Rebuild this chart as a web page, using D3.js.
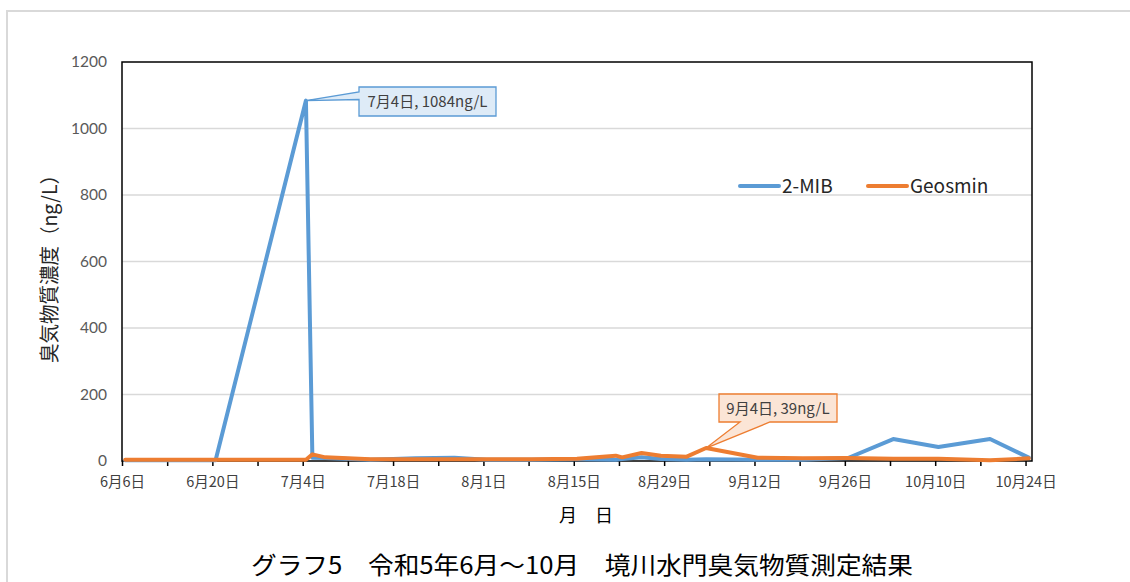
<!DOCTYPE html>
<html>
<head>
<meta charset="utf-8">
<script src="https://cdn.jsdelivr.net/npm/d3@7"></script>
<style>
  body { margin: 0; background: #fff; }
  text { font-family: "Noto Sans CJK JP", sans-serif; }
</style>
</head>
<body>
<div class="canvas"></div>
<script>
// sampling dates (2023) and measured values, ng/L
const sampleDates = ['6/6', '6/20', '7/4', '7/5', '7/7', '7/14', '7/21', '7/27', '8/1', '8/8', '8/15',
                     '8/21', '8/22', '8/25', '8/28', '9/1', '9/4', '9/12', '9/19', '9/26', '10/3',
                     '10/10', '10/18', '10/24']
const mibValues = [2, 2, 1084, 10, 9, 4, 8, 10, 4, 4, 5,
                   4, 6, 11, 6, 4, 5, 4, 4, 9, 66,
                   42, 66, 10]
const geosminValues = [4, 4, 4, 20, 11, 5, 5, 5, 5, 5, 7,
                       16, 11, 24, 16, 13, 39, 10, 8, 9, 7,
                       7, 2, 8]
const seriesNames = ['2-MIB', 'Geosmin']
const yTicks = [0, 200, 400, 600, 800, 1000, 1200]
const xTickDates = ['6/6', '6/20', '7/4', '7/18', '8/1', '8/15', '8/29', '9/12', '9/26', '10/10', '10/24']
const callouts = [
  {series: 0, date: '7/4', label: '7月4日, 1084ng/L'},
  {series: 1, date: '9/4', label: '9月4日, 39ng/L'}
]

const W = 1130, H = 582
const plot = {left: 122, right: 1032, top: 62, bottom: 461}
const colors = ['#5B9BD5', '#ED7D31']
const fills = ['#DEEBF7', '#FBE5D6']

const parseDay = s => d3.timeParse('%Y/%m/%d')('2023/' + s)
// points sit in the middle of their day slot
const atNoon = s => d3.timeHour.offset(parseDay(s), 12)

const svg = d3.select('.canvas').append('svg')
    .attr('width', W)
    .attr('height', H)

// outer chart frame
svg.append('path')
    .attr('d', `M7,${H} L7,11 L${W},11`)
    .attr('fill', 'none')
    .attr('stroke', '#d9d9d9')
    .attr('stroke-width', 2)

const x = d3.scaleTime()
    .domain([parseDay('6/6'), parseDay('10/25')])
    .range([plot.left, plot.right])
const y = d3.scaleLinear()
    .domain([0, 1200])
    .range([plot.bottom, plot.top])

// grid
svg.append('g').selectAll('line')
    .data(yTicks.slice(1, -1))
    .enter().append('line')
        .attr('x1', plot.left).attr('x2', plot.right)
        .attr('y1', d => y(d)).attr('y2', d => y(d))
        .attr('stroke', '#d9d9d9')
        .attr('stroke-width', 1.3)

// y axis labels
const yAxis = svg.append('g')
    .attr('transform', `translate(${plot.left},0)`)
    .call(d3.axisLeft(y).tickValues(yTicks).tickSize(0).tickPadding(15).tickFormat(d3.format('d')))
yAxis.select('.domain').remove()
yAxis.selectAll('text')
    .style('font-family', 'Lato, "Noto Sans CJK JP", sans-serif')
    .style('font-size', '15.5px')
    .attr('fill', '#595959')

// x axis: weekly ticks, labels every two weeks
const weekly = d3.timeDay.range(parseDay('6/6'), parseDay('10/25'), 7)
const labelled = new Set(xTickDates.map(s => +parseDay(s)))
const xAxis = svg.append('g')
    .attr('transform', `translate(0,${plot.bottom})`)
    .call(d3.axisBottom(x)
        .tickValues(weekly)
        .tickSize(5)
        .tickPadding(11)
        .tickFormat(d => labelled.has(+d) ? d3.timeFormat('%-m月%-d日')(d) : ''))
xAxis.select('.domain').remove()
xAxis.selectAll('line').attr('stroke', '#000').attr('stroke-width', 1.5)
xAxis.selectAll('text')
    .style('font-size', '14.5px')
    .attr('fill', '#404040')

// plot area border
svg.append('rect')
    .attr('x', plot.left).attr('y', plot.top)
    .attr('width', plot.right - plot.left)
    .attr('height', plot.bottom - plot.top)
    .attr('fill', 'none')
    .attr('stroke', '#000')
    .attr('stroke-width', 1.5)

// lines
const series = [mibValues, geosminValues].map(vals =>
    sampleDates.map((s, i) => ({date: atNoon(s), value: vals[i]})))
const line = d3.line()
    .x(d => x(d.date))
    .y(d => y(d.value))

svg.append('g').selectAll('path')
    .data(series)
    .enter().append('path')
        .attr('d', line)
        .attr('fill', 'none')
        .attr('stroke', (d, i) => colors[i])
        .attr('stroke-width', 4)
        .attr('stroke-linejoin', 'round')
        .attr('stroke-linecap', 'round')

// legend
const legend = svg.append('g')
seriesNames.forEach((name, i) => {
    const lx = 740 + i * 128
    legend.append('line')
        .attr('x1', lx).attr('x2', lx + 39)
        .attr('y1', 186).attr('y2', 186)
        .attr('stroke', colors[i])
        .attr('stroke-width', 4)
        .attr('stroke-linecap', 'round')
    legend.append('text')
        .attr('x', lx + 42).attr('y', 192.5)
        .style('font-size', '19px')
        .attr('fill', '#262626')
        .text(name)
})

// data callouts
const drawCallout = (c, box, notch) => {
    const px = x(atNoon(c.date))
    const py = y([mibValues, geosminValues][c.series][sampleDates.indexOf(c.date)])
    const bx = box.x, by = box.y, bw = box.w, bh = box.h
    let d
    if (notch === 'left') {
        d = `M${bx},${by} L${bx + bw},${by} L${bx + bw},${by + bh} L${bx},${by + bh}
             L${bx},${by + 12.5} L${px},${py} L${bx},${by + 5} Z`
    } else {
        d = `M${bx},${by} L${bx + bw},${by} L${bx + bw},${by + bh} L${bx + 51},${by + bh}
             L${px},${py} L${bx + 21},${by + bh} L${bx},${by + bh} Z`
    }
    svg.append('path')
        .attr('d', d)
        .attr('fill', fills[c.series])
        .attr('stroke', colors[c.series])
        .attr('stroke-width', 1.3)
    svg.append('text')
        .attr('x', bx + bw / 2).attr('y', by + bh / 2 + 5.5)
        .attr('text-anchor', 'middle')
        .style('font-size', '15px')
        .attr('fill', '#404040')
        .text(c.label)
}
drawCallout(callouts[0], {x: 359, y: 87, w: 137, h: 29}, 'left')
drawCallout(callouts[1], {x: 719, y: 394, w: 118, h: 28}, 'bottom')

// axis titles
svg.append('text')
    .attr('transform', 'translate(57,264) rotate(-90)')
    .attr('text-anchor', 'middle')
    .attr('textLength', 198)
    .attr('lengthAdjust', 'spacingAndGlyphs')
    .style('font-size', '20px')
    .attr('fill', '#262626')
    .text('臭気物質濃度（ng/L）')

svg.append('text')
    .attr('x', 586).attr('y', 522)
    .attr('text-anchor', 'middle')
    .style('font-size', '18px')
    .attr('fill', '#000')
    .text('月　日')

svg.append('text')
    .attr('x', 582).attr('y', 574)
    .attr('text-anchor', 'middle')
    .attr('textLength', 662)
    .attr('lengthAdjust', 'spacingAndGlyphs')
    .style('font-size', '24px')
    .attr('fill', '#000')
    .text('グラフ5　令和5年6月～10月　境川水門臭気物質測定結果')
</script>
</body>
</html>
